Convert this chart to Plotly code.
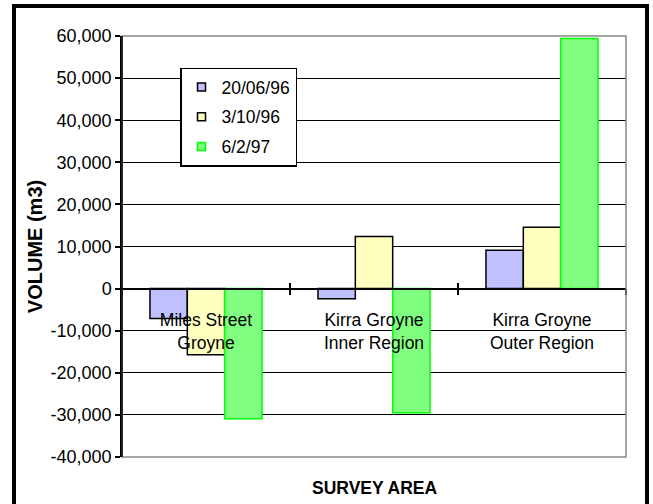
import plotly.graph_objects as go

# Survey areas (category axis) and net volume change per survey date
areas = ["Miles Street<br>Groyne", "Kirra Groyne<br>Inner Region", "Kirra Groyne<br>Outer Region"]
survey_dates = ["20/06/96", "3/10/96", "6/2/97"]
vol_200696 = [-7100, -2400, 9100]
vol_031096 = [-15700, 12400, 14600]
vol_060297 = [-30900, -29500, 59400]

y_ticks = [-40000, -30000, -20000, -10000, 0, 10000, 20000, 30000, 40000, 50000, 60000]
y_tick_labels = [f"{v:,}" for v in y_ticks]

fills = ["#C0C0FF", "#FFFFC0", "#80FF80"]
edges = ["#000000", "#000000", "#00FF00"]

W, H = 653, 504
ML, MR, MT, MB = 122, 27, 36, 47
PW, PH = W - ML - MR, H - MT - MB
FONT = "Arial, Liberation Sans, sans-serif"
FS = 17.5

y_min, y_max = y_ticks[0], y_ticks[-1]
zero_pos = (0 - y_min) / (y_max - y_min)


def px_x(p):
    return (p - ML) / PW


def px_y(p):
    return (H - MB - p) / PH


fig = go.Figure()
for i, (name, vals) in enumerate(zip(survey_dates, [vol_200696, vol_031096, vol_060297])):
    fig.add_trace(go.Bar(
        x=areas, y=vals, name=name,
        marker=dict(color=fills[i], line=dict(color=edges[i], width=1.5)),
        legendgroup=name, showlegend=False,
    ))
    # small square key for the legend
    fig.add_trace(go.Scatter(
        x=[None], y=[None], name=name, mode="markers",
        marker=dict(symbol="square", size=8, color=fills[i],
                    line=dict(color=edges[i], width=1.5)),
        legendgroup=name, showlegend=True, hoverinfo="skip",
    ))

boundaries = [i + 0.5 for i in range(-1, len(areas))]

fig.update_layout(
    width=W, height=H,
    margin=dict(l=ML, r=MR, t=MT, b=MB),
    paper_bgcolor="white", plot_bgcolor="white",
    font=dict(family=FONT, size=FS, color="black"),
    barmode="group", bargap=0.333, bargroupgap=0,
    showlegend=True,
    legend=dict(
        x=px_x(180), y=px_y(67.5), xanchor="left", yanchor="top",
        bgcolor="white", bordercolor="black", borderwidth=1.5,
        font=dict(family=FONT, size=FS, color="black"),
        traceorder="grouped", tracegroupgap=4, itemsizing="trace",
        entrywidth=90,
    ),
    xaxis=dict(
        type="category", range=[-0.5, len(areas) - 0.5],
        anchor="free", position=zero_pos,
        showline=True, linecolor="black", linewidth=1.5,
        ticks="outside", tickson="boundaries", ticklen=6, tickwidth=1.5, tickcolor="black",
        showgrid=False, ticklabelstandoff=16,
        tickfont=dict(family=FONT, size=FS, color="black"),
        title=None,
    ),
    xaxis2=dict(
        overlaying="x", anchor="free", position=zero_pos,
        range=[-0.5, len(areas) - 0.5],
        tickmode="array", tickvals=boundaries,
        ticks="inside", ticklen=6, tickwidth=1.5, tickcolor="black",
        showticklabels=False, showgrid=False, showline=False, zeroline=False,
    ),
    yaxis=dict(
        range=[y_min, y_max],
        tickmode="array", tickvals=y_ticks, ticktext=y_tick_labels,
        ticks="outside", ticklen=5, tickwidth=1.5, tickcolor="black",
        showline=True, linecolor="black", linewidth=1.5,
        showgrid=True, gridcolor="black", gridwidth=1.2,
        zeroline=True, zerolinecolor="black", zerolinewidth=1.5,
        tickfont=dict(family=FONT, size=18, color="black"),
        title=dict(text="<b>VOLUME (m3)</b>", standoff=3,
                   font=dict(family=FONT, size=20, color="black")),
    ),
)

# invisible trace so the overlay axis with the crossing ticks is rendered
fig.add_trace(go.Scatter(x=[0], y=[0], xaxis="x2", mode="markers",
                         marker=dict(opacity=0), showlegend=False, hoverinfo="skip"))

# grey plot-area border (top, right, bottom)
fig.add_shape(type="rect", xref="paper", yref="paper", x0=0, x1=1, y0=0, y1=1,
              line=dict(color="#888888", width=1.5), layer="above")
# left axis line redrawn in black above the border
fig.add_shape(type="line", xref="paper", yref="paper", x0=0, x1=0, y0=0, y1=1,
              line=dict(color="black", width=1.5), layer="above")

# x-axis title
fig.add_annotation(text="<b>SURVEY AREA</b>", xref="paper", yref="paper",
                   x=0.5, y=px_y(488), xanchor="center", yanchor="middle",
                   showarrow=False, font=dict(family=FONT, size=FS, color="black"))

# heavy outer frame around the chart
fig.add_shape(type="rect", xref="paper", yref="paper",
              x0=px_x(14), x1=px_x(647), y0=px_y(530), y1=px_y(6),
              line=dict(color="black", width=4), layer="above")

fig.write_html("out.html")
